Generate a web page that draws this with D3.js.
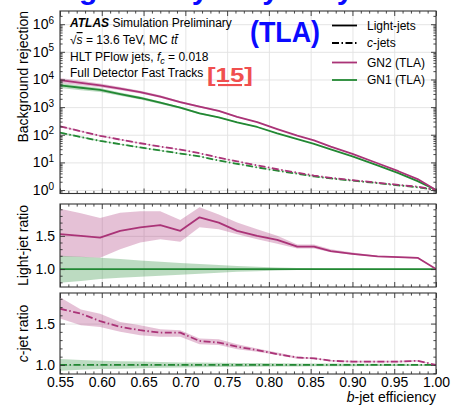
<!DOCTYPE html>
<html>
<head>
<meta charset="utf-8">
<script src="https://cdn.jsdelivr.net/npm/d3@7"></script>
<style>
  body { margin: 0; background: #fff; overflow: hidden; }
  svg { display: block; font-family: "Liberation Sans", Arial, Helvetica, sans-serif; }
</style>
</head>
<body>
<svg id="chart" width="451" height="409"></svg>
<script>
// ---- b-jet efficiency working points ----
const bEff = [0.55, 0.575, 0.598, 0.622, 0.646, 0.67, 0.694, 0.717, 0.74, 0.762,
              0.786, 0.81, 0.834, 0.854, 0.874, 0.90, 0.93, 0.955, 0.978, 1.0];

// ---- background rejection ----
const gn1LightRej = [6166, 5012, 4169, 2951, 2138, 1445, 955, 589, 427, 282,
                     191, 112, 69, 46.8, 29.5, 16.6, 7.8, 4.1, 2.1, 1.0];
const gn2LightRej = [9403, 7518, 6149, 4651, 3479, 2403, 1505, 1048, 726, 444,
                     287, 161, 92.3, 62.6, 37.5, 20.4, 9.3, 4.8, 2.5, 1.0];
const gn1CRej = [120, 83, 60, 45.7, 34.7, 26.9, 20.9, 16.6, 11.7, 8.9,
                 6.6, 5.0, 3.9, 3.1, 2.63, 2.19, 1.78, 1.48, 1.26, 1.0];
const gn2CRej = [202, 134, 92, 66.7, 49.3, 37.4, 29.1, 21.4, 14.9, 10.9,
                 7.8, 5.65, 4.25, 3.35, 2.76, 2.28, 1.85, 1.54, 1.32, 1.0];

// ---- light-jet ratio to GN1 ----
const gn1LightRatio = [1, 1, 1, 1, 1, 1, 1, 1, 1, 1, 1, 1, 1, 1, 1, 1, 1, 1, 1, 1];
const gn1LightBandHi = [1.20, 1.185, 1.17, 1.15, 1.13, 1.11, 1.09, 1.075, 1.06, 1.045,
                        1.035, 1.025, 1.015, 1.012, 1.01, 1.008, 1.006, 1.005, 1.004, 1.0];
const gn1LightBandLo = [0.795, 0.82, 0.85, 0.87, 0.885, 0.90, 0.915, 0.93, 0.945, 0.958,
                        0.968, 0.978, 0.985, 0.988, 0.99, 0.992, 0.994, 0.995, 0.996, 1.0];
const gn2LightRatio = [1.525, 1.50, 1.475, 1.576, 1.627, 1.663, 1.576, 1.78, 1.70, 1.576,
                       1.50, 1.44, 1.337, 1.337, 1.27, 1.23, 1.19, 1.18, 1.17, 1.0];
const gn2LightBandHi = [1.91, 1.84, 1.77, 1.85, 1.87, 1.87, 1.74, 1.93, 1.82, 1.70,
                        1.60, 1.50, 1.37, 1.37, 1.30, 1.25, 1.20, 1.19, 1.18, 1.0];
const gn2LightBandLo = [1.19, 1.18, 1.17, 1.30, 1.40, 1.45, 1.41, 1.63, 1.60, 1.525,
                        1.45, 1.38, 1.31, 1.31, 1.255, 1.215, 1.18, 1.17, 1.16, 1.0];

// ---- c-jet ratio to GN1 ----
const gn1CRatio = [1, 1, 1, 1, 1, 1, 1, 1, 1, 1, 1, 1, 1, 1, 1, 1, 1, 1, 1, 1];
const gn1CBandHi = [1.07, 1.06, 1.05, 1.045, 1.04, 1.035, 1.03, 1.028, 1.026, 1.024,
                    1.022, 1.02, 1.018, 1.017, 1.016, 1.015, 1.014, 1.013, 1.012, 1.0];
const gn1CBandLo = [0.93, 0.94, 0.95, 0.955, 0.96, 0.965, 0.97, 0.972, 0.974, 0.976,
                    0.978, 0.98, 0.982, 0.983, 0.984, 0.985, 0.986, 0.987, 0.988, 1.0];
const gn2CRatio = [1.68, 1.62, 1.53, 1.46, 1.42, 1.39, 1.39, 1.29, 1.27, 1.22,
                   1.18, 1.13, 1.09, 1.08, 1.05, 1.04, 1.04, 1.04, 1.05, 1.0];
const gn2CBandHi = [1.82, 1.67, 1.62, 1.52, 1.48, 1.43, 1.42, 1.32, 1.31, 1.25,
                    1.20, 1.15, 1.10, 1.09, 1.06, 1.05, 1.05, 1.05, 1.06, 1.0];
const gn2CBandLo = [1.56, 1.48, 1.46, 1.40, 1.36, 1.34, 1.34, 1.25, 1.24, 1.19,
                    1.16, 1.12, 1.075, 1.07, 1.04, 1.03, 1.03, 1.03, 1.04, 1.0];

// ---- tick labels ----
const xTickLabels = ["0.55", "0.60", "0.65", "0.70", "0.75", "0.80", "0.85", "0.90", "0.95", "1.00"];
const rejDecades = [0, 1, 2, 3, 4, 5, 6];
const ratioTickLabels = ["1.0", "1.5"];

// ---- legend ----
const styleLabels = ["Light-jets", "c-jets"];
const taggerLabels = ["GN2 (TLA)", "GN1 (TLA)"];

// ---- slide heading line (sits above the page, only its lower edge shows) ----
const headingWords = ["Tracking", "Study", "by", "Early"];

// ---- styling ----
const colGN2 = "#aa3377";
const colGN1 = "#228833";
const dashDot = "7,2.5,1.5,2.5";
const lineW = 1.8;

const svg = d3.select("#chart");
const X0 = 60, X1 = 436;
const x = d3.scaleLinear().domain([0.55, 1.0]).range([X0, X1]);

const panels = {
  main: { top: 11, bottom: 193.5 },
  light: { top: 204, bottom: 287 },
  charm: { top: 293, bottom: 374 }
};

const yMain = d3.scaleLog().domain([0.75, 3e6]).range([panels.main.bottom, panels.main.top]);
const yLight = d3.scaleLinear().domain([0.73, 1.98]).range([panels.light.bottom, panels.light.top]);
const yCharm = d3.scaleLinear().domain([0.89, 1.87]).range([panels.charm.bottom, panels.charm.top]);

const xMajor = xTickLabels.map(Number);
const xMinor = d3.range(55, 101).map(v => v / 100).filter(v => !xMajor.some(m => Math.abs(m - v) < 1e-9));

function logMinor(scale) {
  const [lo, hi] = scale.domain();
  const out = [];
  for (let d = -1; d <= 7; d++) for (let k = 2; k <= 9; k++) {
    const v = k * Math.pow(10, d);
    if (v > lo && v < hi) out.push(v);
  }
  return out;
}
function linMinor(scale, majors) {
  const [lo, hi] = scale.domain();
  return d3.range(Math.ceil(lo * 10), Math.floor(hi * 10) + 1).map(v => v / 10)
    .filter(v => !majors.some(m => Math.abs(m - v) < 1e-9));
}

// Light grid lines at the major ticks of one panel.
function drawGrid(p, y, yMajor) {
  const h = p.bottom - p.top, w = X1 - X0;
  const grid = svg.append("g").attr("class", "grid");
  grid.append("g").attr("transform", `translate(0,${p.bottom})`)
    .call(d3.axisBottom(x).tickValues(xMajor).tickSize(-h).tickFormat(""));
  grid.append("g").attr("transform", `translate(${X0},0)`)
    .call(d3.axisLeft(y).tickValues(yMajor).tickSize(-w).tickFormat(""));
  grid.selectAll(".domain").remove();
  grid.selectAll("line").attr("stroke", "#e2e2e2").attr("stroke-width", 0.9);
}
// Frame and inward ticks on all four sides of one panel.
function drawTicks(p, y, yMajor, yMinorVals) {
  const g = svg.append("g").attr("class", "ticks");
  const sides = [
    [() => d3.axisBottom(x), `translate(0,${p.bottom})`, xMajor, xMinor],
    [() => d3.axisTop(x), `translate(0,${p.top})`, xMajor, xMinor],
    [() => d3.axisLeft(y), `translate(${X0},0)`, yMajor, yMinorVals],
    [() => d3.axisRight(y), `translate(${X1},0)`, yMajor, yMinorVals]
  ];
  sides.forEach(([mk, tr, maj, mn]) => {
    g.append("g").attr("transform", tr).call(mk().tickValues(maj).tickSize(-5).tickSizeOuter(0).tickFormat(""));
    g.append("g").attr("transform", tr).call(mk().tickValues(mn).tickSize(-2.6).tickSizeOuter(0).tickFormat(""));
  });
  g.selectAll(".domain").remove();
  g.selectAll("line").attr("stroke", "#333").attr("stroke-width", 0.9);
  svg.append("rect").attr("x", X0).attr("y", p.top).attr("width", X1 - X0).attr("height", p.bottom - p.top)
    .attr("fill", "none").attr("stroke", "#333").attr("stroke-width", 1.1);
}

const mainMajor = rejDecades.map(d => Math.pow(10, d));
const mainMinor = logMinor(yMain);
const ratioMajor = ratioTickLabels.map(Number);

drawGrid(panels.main, yMain, mainMajor);
drawGrid(panels.light, yLight, ratioMajor);
drawGrid(panels.charm, yCharm, ratioMajor);

// clip paths per panel
const defs = svg.append("defs");
Object.entries(panels).forEach(([k, p]) => {
  defs.append("clipPath").attr("id", "clip-" + k).append("rect")
    .attr("x", X0).attr("y", p.top).attr("width", X1 - X0).attr("height", p.bottom - p.top);
});

function band(g, y, lo, hi, col, op) {
  const area = d3.area().x((d, i) => x(bEff[i])).y0((d, i) => y(lo[i])).y1((d, i) => y(hi[i]));
  g.append("path").datum(bEff).attr("d", area).attr("fill", col).attr("fill-opacity", op).attr("stroke", "none");
}
function curve(g, y, vals, col, dash) {
  const line = d3.line().x((d, i) => x(bEff[i])).y((d, i) => y(vals[i]));
  g.append("path").datum(bEff).attr("d", line).attr("fill", "none").attr("stroke", col)
    .attr("stroke-width", lineW).attr("stroke-dasharray", dash || null).attr("stroke-linejoin", "round");
}

// ---- main panel: rejection curves ----
const gMain = svg.append("g").attr("clip-path", "url(#clip-main)");
const scaled = (vals, mult) => vals.map((v, i) => v * mult[i]);
band(gMain, yMain, scaled(gn1LightRej, gn1LightBandLo), scaled(gn1LightRej, gn1LightBandHi), colGN1, 0.3);
band(gMain, yMain, scaled(gn2LightRej, gn1LightBandLo), scaled(gn2LightRej, gn1LightBandHi), colGN2, 0.3);
band(gMain, yMain, scaled(gn1CRej, gn1CBandLo), scaled(gn1CRej, gn1CBandHi), colGN1, 0.3);
band(gMain, yMain, scaled(gn2CRej, gn1CBandLo), scaled(gn2CRej, gn1CBandHi), colGN2, 0.3);
curve(gMain, yMain, gn1LightRej, colGN1);
curve(gMain, yMain, gn2LightRej, colGN2);
curve(gMain, yMain, gn1CRej, colGN1, dashDot);
curve(gMain, yMain, gn2CRej, colGN2, dashDot);

// ---- light-jet ratio panel ----
const gLight = svg.append("g").attr("clip-path", "url(#clip-light)");
band(gLight, yLight, gn2LightBandLo, gn2LightBandHi, colGN2, 0.3);
band(gLight, yLight, gn1LightBandLo, gn1LightBandHi, colGN1, 0.3);
curve(gLight, yLight, gn1LightRatio, colGN1);
curve(gLight, yLight, gn2LightRatio, colGN2);

// ---- c-jet ratio panel ----
const gCharm = svg.append("g").attr("clip-path", "url(#clip-charm)");
band(gCharm, yCharm, gn2CBandLo, gn2CBandHi, colGN2, 0.3);
band(gCharm, yCharm, gn1CBandLo, gn1CBandHi, colGN1, 0.3);
curve(gCharm, yCharm, gn1CRatio, colGN1, dashDot);
curve(gCharm, yCharm, gn2CRatio, colGN2, dashDot);

drawTicks(panels.main, yMain, mainMajor, mainMinor);
drawTicks(panels.light, yLight, ratioMajor, linMinor(yLight, ratioMajor));
drawTicks(panels.charm, yCharm, ratioMajor, linMinor(yCharm, ratioMajor));

// ---- tick labels ----
const fs = 14;
const labels = svg.append("g").attr("class", "labels");
labels.append("g").attr("transform", `translate(0,${panels.charm.bottom})`)
  .call(d3.axisBottom(x).tickValues(xMajor).tickSize(0).tickPadding(3)
    .tickFormat((d, i) => xTickLabels[i]));
const yMainLab = labels.append("g").attr("transform", `translate(${X0},0)`)
  .call(d3.axisLeft(yMain).tickValues(mainMajor).tickSize(0).tickPadding(6).tickFormat(""));
yMainLab.selectAll(".tick text").each(function (d, i) {
  const t = d3.select(this);
  t.append("tspan").text("10");
  t.append("tspan").attr("dy", "-0.55em").attr("font-size", 10).text(rejDecades[i]);
});
[yLight, yCharm].forEach(ys => {
  labels.append("g").attr("transform", `translate(${X0},0)`)
    .call(d3.axisLeft(ys).tickValues(ratioMajor).tickSize(0).tickPadding(5)
      .tickFormat((d, i) => ratioTickLabels[i]));
});
labels.selectAll(".domain").remove();
labels.selectAll(".tick text").attr("font-size", fs).attr("font-family", "Liberation Sans, Arial, sans-serif").attr("fill", "#000");

// ---- axis titles ----
const xTitle = svg.append("text").attr("x", X1).attr("y", 402).attr("text-anchor", "end").attr("font-size", fs);
xTitle.append("tspan").attr("font-style", "italic").text("b");
xTitle.append("tspan").text("-jet efficiency");

svg.append("text").attr("transform", `translate(28,${panels.main.top}) rotate(-90)`)
  .attr("text-anchor", "end").attr("font-size", fs).text("Background rejection");
svg.append("text").attr("transform", `translate(28,${(panels.light.top + panels.light.bottom) / 2}) rotate(-90)`)
  .attr("text-anchor", "middle").attr("font-size", fs).text("Light-jet ratio");
const cTitle = svg.append("text").attr("transform", `translate(28,${(panels.charm.top + panels.charm.bottom) / 2}) rotate(-90)`)
  .attr("text-anchor", "middle").attr("font-size", fs);
cTitle.append("tspan").attr("font-style", "italic").text("c");
cTitle.append("tspan").text("-jet ratio");

// ---- ATLAS label block ----
const lab = svg.append("g").attr("font-size", 12);
const l1 = lab.append("text").attr("x", 70).attr("y", 27);
l1.append("tspan").attr("font-weight", "bold").attr("font-style", "italic").text("ATLAS");
l1.append("tspan").text(" Simulation Preliminary");
const l2 = lab.append("text").attr("x", 70).attr("y", 44);
l2.append("tspan").text("\u221A");
l2.append("tspan").attr("font-style", "italic").attr("text-decoration", "overline").text("s");
l2.append("tspan").text(" = 13.6 TeV, MC ");
l2.append("tspan").attr("font-style", "italic").text("t");
l2.append("tspan").attr("font-style", "italic").text("t\u0304");
const l3 = lab.append("text").attr("x", 70).attr("y", 60.5);
l3.append("tspan").text("HLT PFlow jets, ");
l3.append("tspan").attr("font-style", "italic").text("f");
l3.append("tspan").attr("font-style", "italic").attr("font-size", 9).attr("dy", 3).text("c");
l3.append("tspan").attr("dy", -3).text(" = 0.018");
lab.append("text").attr("x", 70).attr("y", 77).text("Full Detector Fast Tracks");

// ---- legend ----
const leg = svg.append("g").attr("font-size", 12);
const legRows = [
  { label: styleLabels[0], col: "#000", dash: null, y: 25.5 },
  { label: styleLabels[1], col: "#000", dash: dashDot, y: 43 },
  { label: taggerLabels[0], col: colGN2, dash: null, y: 62.5 },
  { label: taggerLabels[1], col: colGN1, dash: null, y: 80 }
];
legRows.forEach((r, i) => {
  leg.append("line").attr("x1", 332).attr("x2", 357).attr("y1", r.y).attr("y2", r.y)
    .attr("stroke", r.col).attr("stroke-width", lineW).attr("stroke-dasharray", r.dash);
  const t = leg.append("text").attr("x", 367).attr("y", r.y + 4.3);
  if (i === 1) {
    t.append("tspan").attr("font-style", "italic").text("c");
    t.append("tspan").text("-jets");
  } else {
    t.text(r.label);
  }
});

// ---- slide overlays ----
const blue = "#0a0aff";
const heading = svg.append("text").attr("y", -1)
  .attr("font-family", "Liberation Sans, Arial, sans-serif").attr("font-weight", "bold")
  .attr("font-size", 30).attr("fill", blue);
const wordStarts = [-26, 125, 244, 280];
headingWords.forEach((w, i) => {
  heading.append("tspan").attr("x", wordStarts[i]).text(w);
});
svg.append("text").attr("x", 250).attr("y", 42)
  .attr("font-family", "Liberation Sans, Arial, sans-serif").attr("font-weight", "bold")
  .attr("font-size", 30).attr("textLength", 70).attr("lengthAdjust", "spacingAndGlyphs")
  .attr("fill", blue).text("(TLA)");
svg.append("text").attr("x", 207).attr("y", 82)
  .attr("font-family", "Liberation Sans, Arial, sans-serif").attr("font-weight", "bold")
  .attr("font-size", 21).attr("textLength", 46).attr("lengthAdjust", "spacingAndGlyphs")
  .attr("fill", "#f04f4f").attr("text-decoration", "underline").text("[15]");
</script>
</body>
</html>
